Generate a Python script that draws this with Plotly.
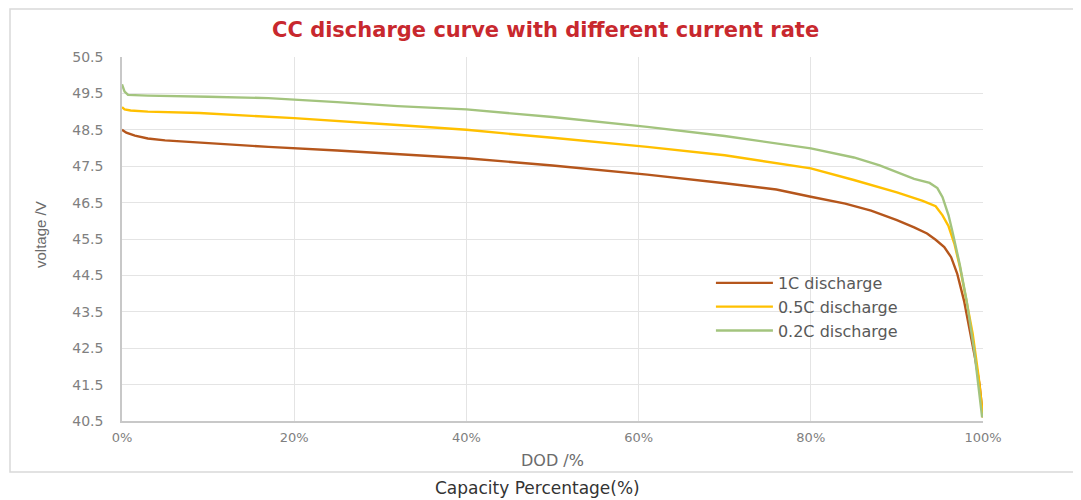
import plotly.graph_objects as go

# DOD (%) and voltage (V)
dod_1c = [0, 0.5, 1.5, 3, 5, 8, 12, 17, 25, 32, 40, 50, 61, 70, 76, 80, 84, 87, 90, 92, 93.5, 94.5,
          95.5, 96.3, 97, 97.8, 98.5, 99.1, 99.6, 100]
v_1c = [48.5, 48.42, 48.34, 48.26, 48.21, 48.16, 48.1, 48.03, 47.93, 47.83, 47.72, 47.52, 47.27, 47.03,
        46.86, 46.66, 46.47, 46.28, 46.02, 45.82, 45.65, 45.48, 45.28, 45.0, 44.55, 43.8, 42.95, 42.2, 41.5, 40.6]

dod_05c = [0, 0.3, 1, 3, 9, 20, 32, 40, 50, 61, 70, 80, 85, 90, 93, 94.5, 95.3, 96, 96.7, 97.3, 98,
           98.8, 99.5, 100]
v_05c = [49.12, 49.06, 49.03, 49.0, 48.96, 48.82, 48.63, 48.5, 48.28, 48.03, 47.8, 47.44, 47.12, 46.78,
         46.55, 46.4, 46.15, 45.85, 45.35, 44.75, 43.9, 42.9, 41.7, 40.6]

dod_02c = [0, 0.3, 0.7, 3, 10, 17, 25, 32, 40, 50, 61, 70, 80, 85, 88, 90, 92, 93.8, 94.7, 95.3, 96,
           96.5, 97.3, 98.1, 99, 99.9]
v_02c = [49.75, 49.55, 49.46, 49.44, 49.41, 49.37, 49.26, 49.15, 49.06, 48.85, 48.58, 48.33, 47.99,
         47.74, 47.52, 47.33, 47.15, 47.04, 46.9, 46.65, 46.15, 45.65, 44.8, 43.8, 42.4, 40.6]

series_names = ["1C discharge", "0.5C discharge", "0.2C discharge"]
x_ticks = [0, 20, 40, 60, 80, 100]
y_ticks = [40.5, 41.5, 42.5, 43.5, 44.5, 45.5, 46.5, 47.5, 48.5, 49.5, 50.5]

colors = ["#b5561c", "#ffc000", "#a3c47e"]
FONT = "DejaVu Sans"

fig = go.Figure()
for xs, ys, name, c in zip([dod_1c, dod_05c, dod_02c], [v_1c, v_05c, v_02c], series_names, colors):
    fig.add_trace(go.Scatter(x=xs, y=ys, name=name, mode="lines",
                             line=dict(color=c, width=2.4)))

# page body adds an 8px offset; margins compensate so the plot area lands at x 122-983, y 57-421
fig.update_layout(
    width=1081, height=500,
    margin=dict(l=114, r=106, t=49, b=87, autoexpand=False),
    paper_bgcolor="white", plot_bgcolor="white",
    showlegend=True,
    legend=dict(x=0.684, y=0.426, xanchor="left", yanchor="top",
                font=dict(family=FONT, size=16, color="#595959"),
                bgcolor="rgba(0,0,0,0)", tracegroupgap=0, itemwidth=57),
    font=dict(family=FONT, color="#7f7f7f"),
)
fig.update_xaxes(range=[0, 100], tickvals=x_ticks, ticktext=[f"{v}%" for v in x_ticks],
                 showgrid=True, gridcolor="#e4e4e4", gridwidth=1,
                 showline=True, linecolor="#c8c8c8", linewidth=1.5, zeroline=False,
                 ticks="outside", ticklen=4, tickcolor="rgba(0,0,0,0)",
                 tickfont=dict(family=FONT, size=13, color="#808080"))
fig.update_yaxes(range=[40.5, 50.5], tickvals=y_ticks, ticktext=[f"{v:.1f}" for v in y_ticks],
                 showgrid=True, gridcolor="#e4e4e4", gridwidth=1,
                 showline=True, linecolor="#c8c8c8", linewidth=1.5, zeroline=False,
                 ticks="outside", ticklen=14, tickcolor="rgba(0,0,0,0)",
                 tickfont=dict(family=FONT, size=14, color="#808080"))

# outer chart frame (kept inside the figure area)
fig.add_shape(type="rect", xref="paper", yref="paper",
              x0=-112 / 861, x1=1.12, y0=(421 - 472) / 364, y1=(421 - 9) / 364,
              line=dict(color="#d9d9d9", width=1.5), fillcolor="rgba(0,0,0,0)", layer="below")

common = dict(xref="paper", yref="paper", showarrow=False, xanchor="center", yanchor="middle")
fig.add_annotation(text="<b>CC discharge curve with different current rate</b>",
                   x=(545 - 122) / 861, y=(421 - 30) / 364,
                   font=dict(family=FONT, size=21, color="#c8282e"), **common)
fig.add_annotation(text="voltage /V", textangle=-90,
                   x=(40 - 122) / 861, y=(421 - 235) / 364,
                   font=dict(family="Liberation Sans", size=15, color="#6b6b6b"), **common)
fig.add_annotation(text="DOD /%",
                   x=(552 - 122) / 861, y=(421 - 460) / 364,
                   font=dict(family=FONT, size=16, color="#6b6b6b"), **common)
fig.add_annotation(text="Capacity Percentage(%)",
                   x=(537 - 122) / 861, y=(421 - 488) / 364,
                   font=dict(family=FONT, size=17, color="#333333"), **common)

fig.write_html("out.html")
